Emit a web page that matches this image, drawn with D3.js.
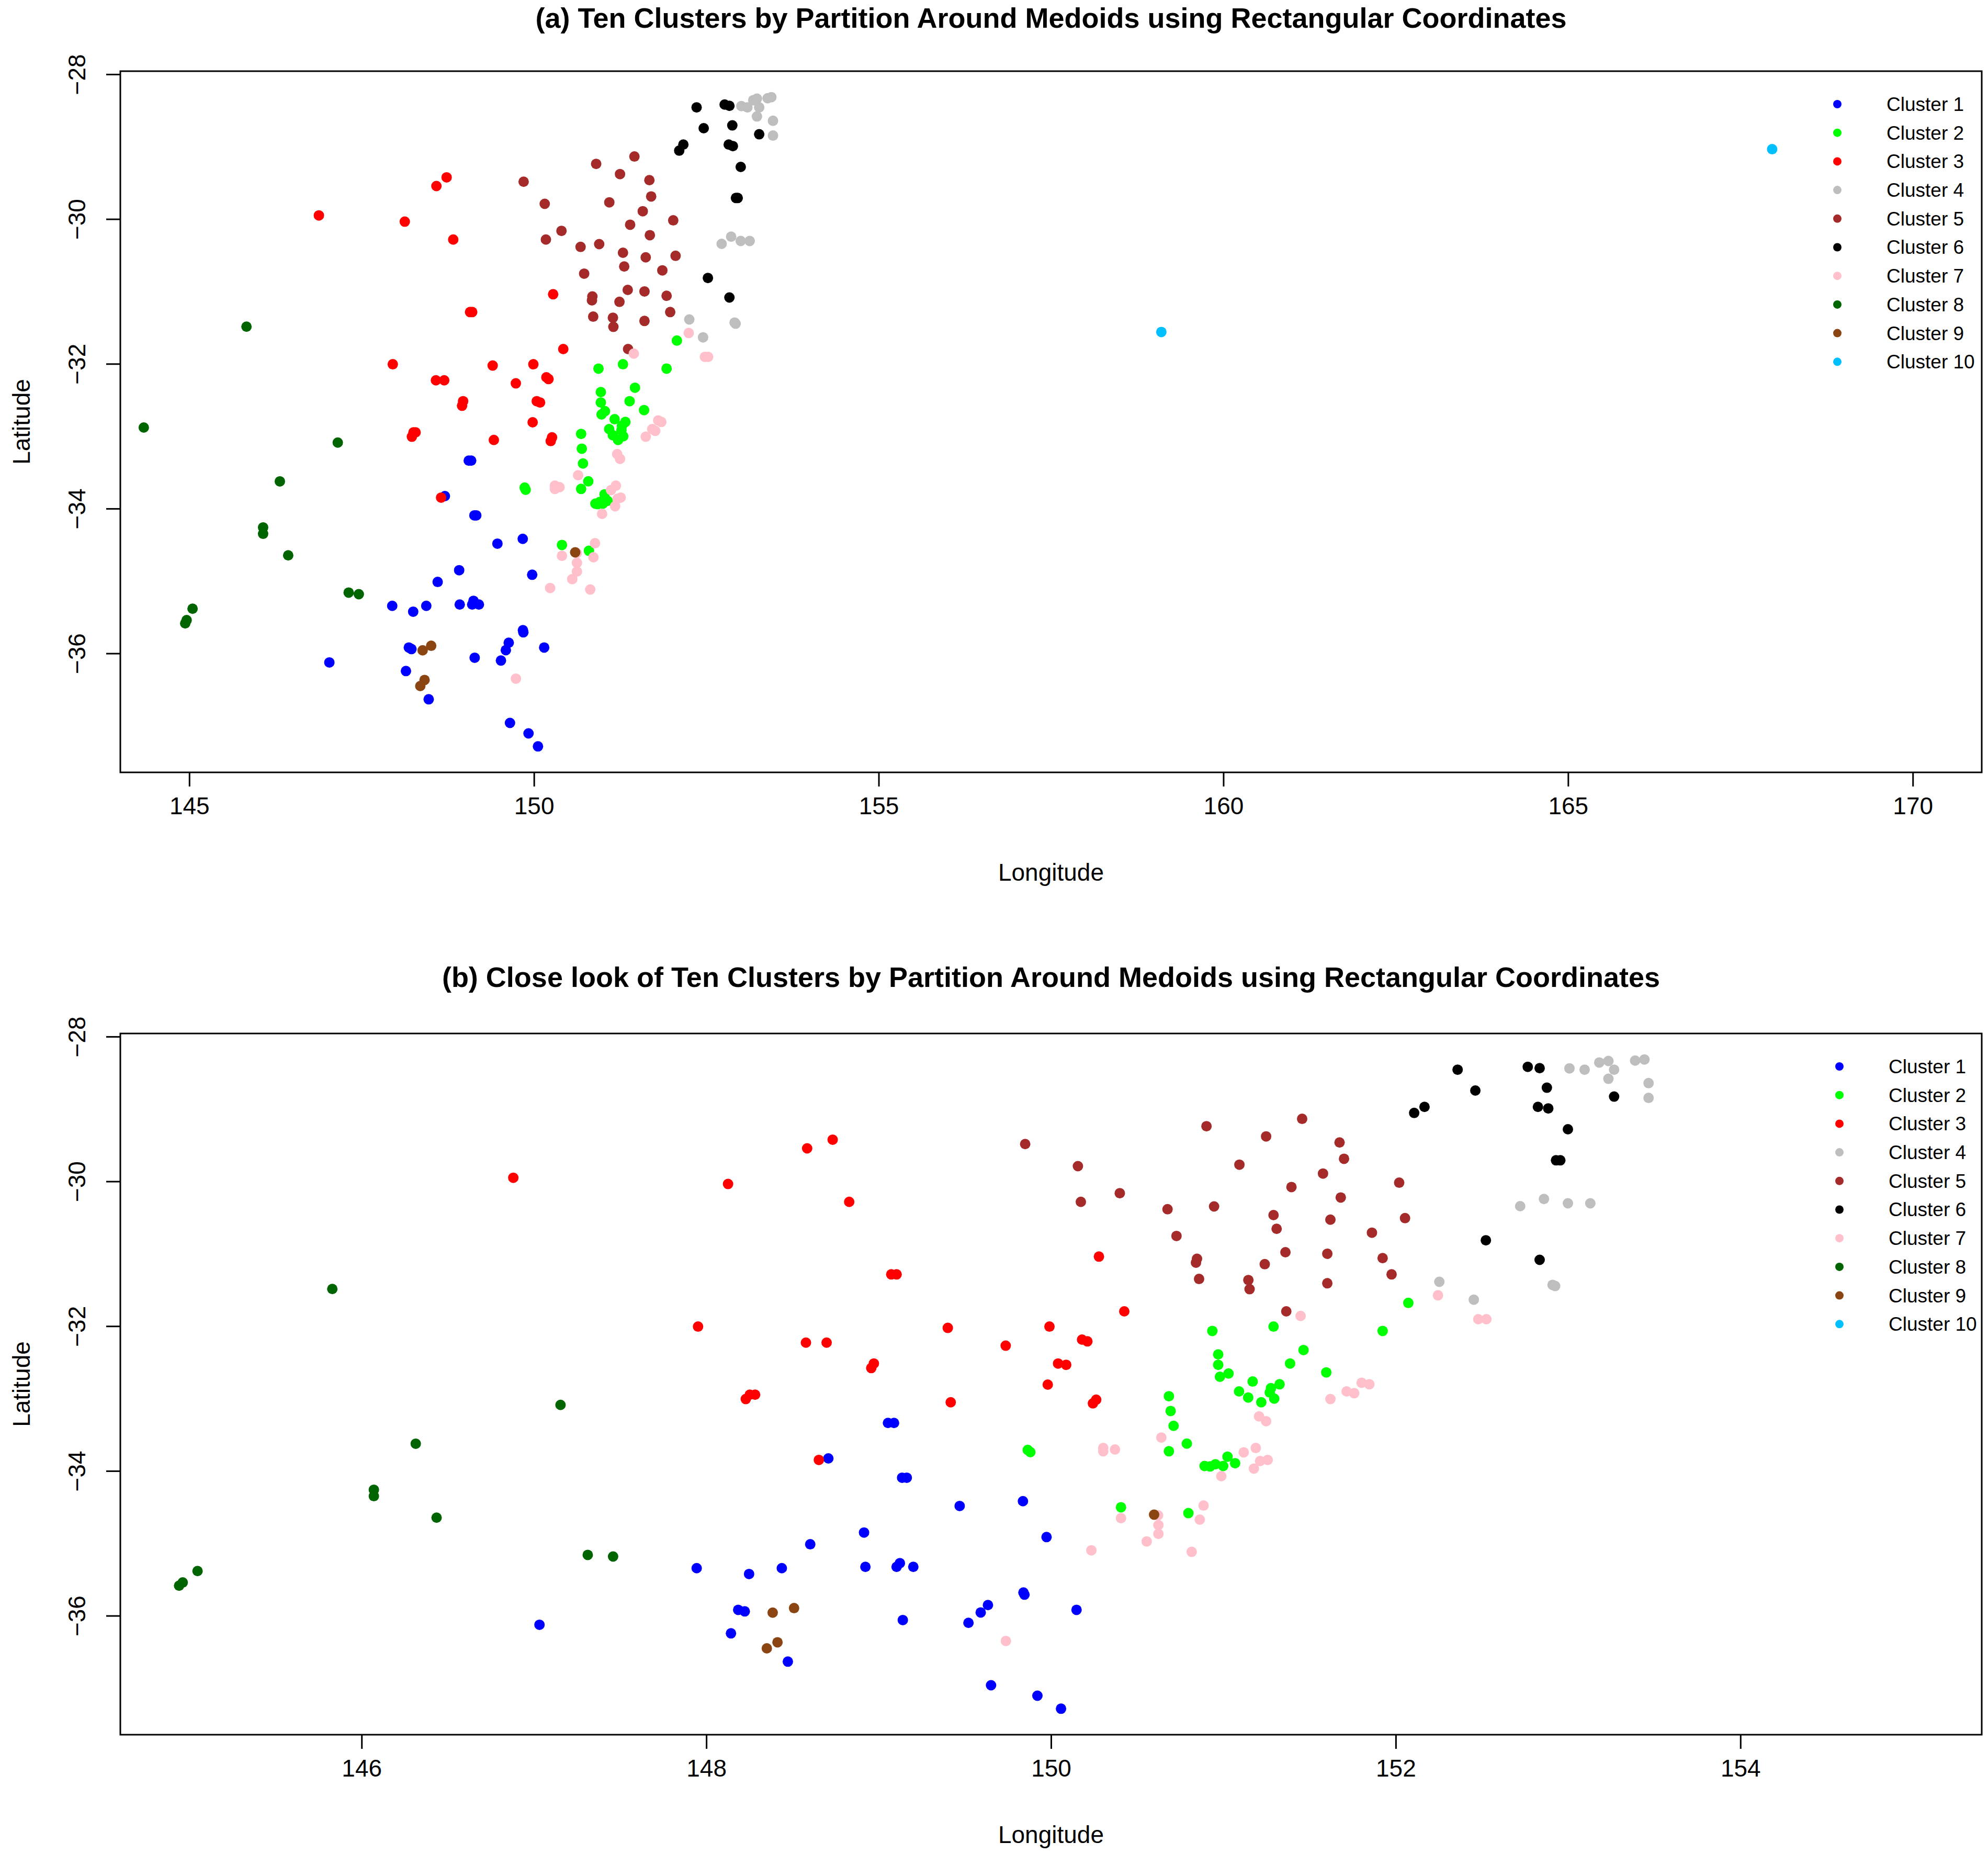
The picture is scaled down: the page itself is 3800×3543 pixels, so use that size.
<!DOCTYPE html>
<html>
<head>
<meta charset="utf-8">
<script src="https://cdn.jsdelivr.net/npm/d3@7"></script>
<style>
  html, body { margin: 0; padding: 0; background: #fff; }
  svg { display: block; font-family: "Liberation Sans", Arial, sans-serif; }
</style>
</head>
<body>
<div id="chart"></div>
<script>
// PAM cluster members, [longitude, latitude].
var cluster1 = [[148.708,-33.827],[149.054,-33.337],[149.089,-33.337],[149.136,-34.094],[149.163,-34.094],
  [149.470,-34.484],[148.915,-34.851],[148.603,-35.013],[147.944,-35.343],[148.248,-35.424],[148.438,-35.343],
  [148.923,-35.325],[149.104,-35.325],[149.123,-35.274],[149.201,-35.325],[149.634,-35.853],[149.592,-35.955],
  [149.521,-36.099],[149.140,-36.060],[148.185,-35.919],[148.223,-35.940],[148.143,-36.244],[148.473,-36.634],
  [149.652,-36.961],[149.837,-34.418],[149.974,-34.914],[149.840,-35.679],[149.846,-35.709],[150.148,-35.919],
  [149.921,-37.105],[150.058,-37.285],[147.032,-36.125]];
var cluster2 = [[150.936,-32.066],[151.291,-32.006],[151.465,-32.330],[150.970,-32.390],[150.970,-32.534],
  [151.387,-32.516],[151.030,-32.654],[150.980,-32.699],[151.170,-32.765],[151.597,-32.639],[151.091,-32.902],
  [151.144,-32.986],[151.220,-33.052],[151.276,-32.857],[151.326,-32.803],[151.269,-32.917],[151.295,-33.001],
  [150.684,-32.968],[150.694,-33.172],[150.711,-33.377],[150.684,-33.728],[150.788,-33.623],[149.865,-33.710],
  [149.880,-33.740],[150.891,-33.932],[150.923,-33.938],[150.954,-33.908],[150.999,-33.932],[151.024,-33.803],
  [151.068,-33.893],[150.406,-34.502],[150.797,-34.583],[152.073,-31.679],[151.924,-32.066]];
var cluster3 = [[148.585,-29.544],[148.733,-29.424],[148.126,-30.036],[148.829,-30.283],[149.073,-31.285],
  [149.104,-31.285],[147.952,-32.006],[148.578,-32.228],[148.698,-32.228],[148.972,-32.516],[148.957,-32.579],
  [149.401,-32.024],[149.737,-32.270],[150.278,-31.039],[150.425,-31.796],[149.991,-32.006],[150.180,-32.186],
  [150.211,-32.210],[150.041,-32.516],[150.088,-32.534],[149.981,-32.808],[148.229,-33.007],[148.252,-32.947],
  [148.283,-32.947],[149.418,-33.052],[148.653,-33.848],[150.243,-33.067],[150.262,-33.016],[146.880,-29.950]];
var cluster4 = [[153.008,-28.439],[153.096,-28.457],[153.181,-28.358],[153.234,-28.337],[153.267,-28.457],
  [153.234,-28.583],[153.389,-28.331],[153.443,-28.316],[153.467,-28.643],[153.467,-28.847],[152.722,-30.343],
  [152.860,-30.243],[152.999,-30.303],[153.129,-30.303],[152.253,-31.387],[152.453,-31.634],[152.910,-31.430],
  [152.925,-31.446]];
var cluster5 = [[149.850,-29.484],[150.902,-29.238],[151.248,-29.379],[151.457,-29.136],[151.674,-29.463],
  [151.700,-29.688],[150.156,-29.790],[151.093,-29.769],[151.578,-29.892],[151.395,-30.078],[150.399,-30.163],
  [150.173,-30.283],[150.676,-30.385],[150.946,-30.346],[151.681,-30.223],[151.291,-30.466],[151.309,-30.655],
  [151.621,-30.529],[150.728,-30.754],[151.360,-30.979],[151.603,-31.000],[150.847,-31.069],[150.841,-31.123],
  [151.240,-31.144],[150.859,-31.348],[151.145,-31.363],[151.152,-31.489],[151.603,-31.408],[151.365,-31.796],
  [152.020,-30.018],[152.054,-30.508],[151.862,-30.709],[151.924,-31.060],[151.976,-31.285]];
var cluster6 = [[152.359,-28.457],[152.766,-28.418],[152.835,-28.436],[152.462,-28.745],[152.877,-28.706],
  [152.167,-28.971],[152.107,-29.055],[153.267,-28.829],[152.825,-28.971],[152.885,-28.992],[152.999,-29.280],
  [152.930,-29.709],[152.955,-29.709],[152.523,-30.814],[152.835,-31.084]];
var cluster7 = [[151.448,-31.859],[152.245,-31.574],[152.479,-31.904],[152.526,-31.904],[151.802,-32.782],
  [151.847,-32.803],[151.715,-32.902],[151.759,-32.926],[151.621,-33.007],[150.303,-33.683],[150.303,-33.728],
  [150.371,-33.704],[150.640,-33.539],[151.207,-33.247],[151.248,-33.313],[151.118,-33.743],[151.188,-33.683],
  [151.257,-33.848],[151.213,-33.863],[151.177,-33.968],[150.988,-34.073],[150.885,-34.478],[150.863,-34.673],
  [150.406,-34.652],[150.621,-34.613],[150.623,-34.749],[150.623,-34.869],[150.555,-34.974],[150.234,-35.097],
  [150.816,-35.118],[149.738,-36.349]];
var cluster8 = [[145.830,-31.487],[147.154,-33.088],[146.314,-33.624],[146.071,-34.260],[146.071,-34.348],
  [146.435,-34.646],[147.312,-35.160],[147.459,-35.182],[145.048,-35.383],[144.962,-35.541],[144.941,-35.585],
  [144.340,-32.880]];
var cluster9 = [[148.385,-35.958],[148.509,-35.895],[148.413,-36.367],[148.351,-36.451],[150.598,-34.604]];
var cluster10 = [[167.960,-29.035],[159.100,-31.560]];

var clusterNames = ["Cluster 1", "Cluster 2", "Cluster 3", "Cluster 4", "Cluster 5",
  "Cluster 6", "Cluster 7", "Cluster 8", "Cluster 9", "Cluster 10"];
var clusterColors = ["#0000FF", "#00FF00", "#FF0000", "#BEBEBE", "#A52A2A",
  "#000000", "#FFC0CB", "#006400", "#8B4513", "#00BFFF"];

var xTicksA = [145, 150, 155, 160, 165, 170];
var xTicksB = [146, 148, 150, 152, 154];
var yTicks = [-28, -30, -32, -34, -36];

var titleA = "(a) Ten Clusters by Partition Around Medoids using Rectangular Coordinates";
var titleB = "(b) Close look of Ten Clusters by Partition Around Medoids using Rectangular Coordinates";

(function () {
  "use strict";

  var W = 3800, H = 3543;
  var clusters = [cluster1, cluster2, cluster3, cluster4, cluster5,
    cluster6, cluster7, cluster8, cluster9, cluster10];

  var points = [];
  clusters.forEach(function (pts, i) {
    pts.forEach(function (p) { points.push({ lon: p[0], lat: p[1], k: i }); });
  });

  // R-style axis range: limits stretched by 4%
  function rpad(lim) {
    var d = (lim[1] - lim[0]) * 0.04;
    return [lim[0] - d, lim[1] + d];
  }
  var latExtent = d3.extent(points, function (d) { return d.lat; });

  var svg = d3.select("#chart").append("svg")
    .attr("width", W).attr("height", H)
    .attr("viewBox", [0, 0, W, H]);

  svg.append("rect").attr("width", W).attr("height", H).attr("fill", "#fff");

  var panels = [
    { id: "a", title: titleA, xlim: [145, 170], xticks: xTicksA,
      left: 230, right: 3788, top: 136, bottom: 1476, titleY: 53, legendX: 3512, legendY: 199 },
    { id: "b", title: titleB, xlim: [145, 155], xticks: xTicksB,
      left: 230, right: 3788, top: 1975, bottom: 3315, titleY: 1886, legendX: 3516, legendY: 2038 }
  ];

  panels.forEach(function (p) {
    var x = d3.scaleLinear().domain(rpad(p.xlim)).range([p.left, p.right]);
    var y = d3.scaleLinear().domain(rpad(latExtent)).range([p.bottom, p.top]);
    var g = svg.append("g");
    var midX = (p.left + p.right) / 2;

    g.append("text")
      .attr("x", midX).attr("y", p.titleY)
      .attr("text-anchor", "middle")
      .attr("font-size", 54).attr("font-weight", "bold")
      .text(p.title);

    g.append("clipPath").attr("id", "clip-" + p.id)
      .append("rect")
      .attr("x", p.left).attr("y", p.top)
      .attr("width", p.right - p.left).attr("height", p.bottom - p.top);

    g.append("g")
      .attr("clip-path", "url(#clip-" + p.id + ")")
      .selectAll("circle")
      .data(points)
      .join("circle")
      .attr("cx", function (d) { return x(d.lon); })
      .attr("cy", function (d) { return y(d.lat); })
      .attr("r", 10)
      .attr("fill", function (d) { return clusterColors[d.k]; });

    // bottom axis
    var xAxis = g.append("g")
      .attr("transform", "translate(0," + p.bottom + ")")
      .call(d3.axisBottom(x).tickValues(p.xticks).tickSize(27).tickPadding(20)
        .tickFormat(d3.format("d")));
    xAxis.select(".domain").remove();
    xAxis.selectAll("line").attr("stroke", "#000").attr("stroke-width", 3);
    xAxis.selectAll("text").attr("font-size", 46).attr("fill", "#000")
      .attr("font-family", "'Liberation Sans', Arial, sans-serif");

    // left axis, labels turned like R
    var yAxis = g.append("g")
      .attr("transform", "translate(" + p.left + ",0)")
      .call(d3.axisLeft(y).tickValues(yTicks).tickSize(27).tickFormat(d3.format("d")));
    yAxis.select(".domain").remove();
    yAxis.selectAll("line").attr("stroke", "#000").attr("stroke-width", 3);
    yAxis.selectAll("text")
      .attr("x", null).attr("dy", "0.35em")
      .attr("transform", "translate(" + (147 - p.left) + ",0) rotate(-90)")
      .attr("text-anchor", "middle")
      .attr("font-size", 46).attr("fill", "#000")
      .attr("font-family", "'Liberation Sans', Arial, sans-serif");

    g.append("rect")
      .attr("x", p.left).attr("y", p.top)
      .attr("width", p.right - p.left).attr("height", p.bottom - p.top)
      .attr("fill", "none").attr("stroke", "#000").attr("stroke-width", 3);

    g.append("text")
      .attr("x", midX).attr("y", p.bottom + 207)
      .attr("text-anchor", "middle").attr("font-size", 46)
      .text("Longitude");

    g.append("text")
      .attr("transform", "translate(41," + ((p.top + p.bottom) / 2) + ") rotate(-90)")
      .attr("dy", "0.35em")
      .attr("text-anchor", "middle").attr("font-size", 46)
      .text("Latitude");

    var legend = g.append("g").selectAll("g")
      .data(clusterNames)
      .join("g")
      .attr("transform", function (d, i) {
        return "translate(" + p.legendX + "," + (p.legendY + i * 54.7) + ")";
      });
    legend.append("circle").attr("r", 8)
      .attr("fill", function (d, i) { return clusterColors[i]; });
    legend.append("text")
      .attr("x", 94).attr("dy", "0.35em")
      .attr("font-size", 37)
      .text(function (d) { return d; });
  });
})();
</script>
</body>
</html>
